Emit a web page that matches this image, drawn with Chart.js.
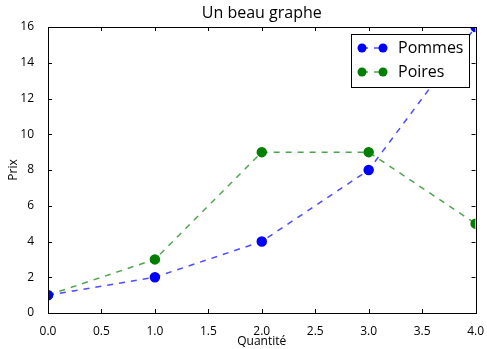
<!DOCTYPE html>
<html>
<head>
<meta charset="utf-8">
<script src="https://cdn.jsdelivr.net/npm/chart.js@4/dist/chart.umd.min.js"></script>
<style>
  html, body { margin: 0; padding: 0; background: #fff; }
  #wrap { width: 487px; height: 349px; }
</style>
</head>
<body>
<div id="wrap"><canvas id="graphe"></canvas></div>
<script>
// Données du graphique
var quantites = [0, 1, 2, 3, 4];
var pommes = [1, 2, 4, 8, 16];
var poires = [1, 3, 9, 9, 5];
var xTicks = [0, 0.5, 1, 1.5, 2, 2.5, 3, 3.5, 4];
var yTicks = [0, 2, 4, 6, 8, 10, 12, 14, 16];
var titre = 'Un beau graphe';

var police = '"Open Sans", sans-serif';

function points(ys) {
  return quantites.map((x, i) => ({ x: x, y: ys[i] }));
}

// Cadre, graduations internes, titre et légende dessinés à la main
var decor = {
  id: 'decor',
  afterDraw(chart) {
    var ctx = chart.ctx, a = chart.chartArea;
    var sx = chart.scales.x, sy = chart.scales.y;
    ctx.save();

    // marqueurs coupés au bord des axes (comme matplotlib) :
    // on efface la petite bande qui dépasse autour de la zone du graphe
    var m = 5;
    ctx.fillStyle = '#fff';
    ctx.fillRect(a.left - m, a.top - m, a.right - a.left + 2 * m, m);
    ctx.fillRect(a.left - m, a.bottom, a.right - a.left + 2 * m, m);
    ctx.fillRect(a.left - m, a.top - m, m, a.bottom - a.top + 2 * m);
    ctx.fillRect(a.right, a.top - m, m, a.bottom - a.top + 2 * m);

    ctx.strokeStyle = '#000';
    ctx.lineWidth = 1;
    ctx.beginPath();
    xTicks.forEach(v => {
      var px = Math.round(sx.getPixelForValue(v)) + 0.5;
      ctx.moveTo(px, a.bottom); ctx.lineTo(px, a.bottom - 4);
      ctx.moveTo(px, a.top); ctx.lineTo(px, a.top + 4);
    });
    yTicks.forEach(v => {
      var py = Math.round(sy.getPixelForValue(v)) + 0.5;
      ctx.moveTo(a.left, py); ctx.lineTo(a.left + 4, py);
      ctx.moveTo(a.right, py); ctx.lineTo(a.right - 4, py);
    });
    ctx.stroke();
    ctx.strokeRect(Math.round(a.left) + 0.5, Math.round(a.top) + 0.5,
      Math.round(a.right - a.left), Math.round(a.bottom - a.top));

    // titre
    ctx.fillStyle = '#000';
    ctx.font = '16px ' + police;
    ctx.textAlign = 'center';
    ctx.textBaseline = 'middle';
    ctx.fillText(titre, (a.left + a.right) / 2, 13);

    // légende
    var lx = 351, ly = 34, lw = 118, lh = 53;
    ctx.fillStyle = '#fff';
    ctx.fillRect(lx, ly, lw, lh);
    ctx.strokeRect(lx + 0.5, ly + 0.5, lw, lh);
    ctx.font = '16px ' + police;
    ctx.textAlign = 'left';
    ctx.textBaseline = 'middle';
    chart.data.datasets.forEach((ds, i) => {
      var yy = ly + 14 + i * 24;
      ctx.strokeStyle = ds.borderColor;
      ctx.lineWidth = 1.5;
      ctx.setLineDash([6, 6]);
      ctx.beginPath();
      ctx.moveTo(362, yy); ctx.lineTo(383, yy);
      ctx.stroke();
      ctx.setLineDash([]);
      ctx.fillStyle = ds.pointBackgroundColor;
      [362, 383].forEach(px => {
        ctx.beginPath();
        ctx.arc(px, yy, 4.5, 0, Math.PI * 2);
        ctx.fill();
      });
      ctx.fillStyle = '#000';
      ctx.fillText(ds.label, 398, yy);
    });
    ctx.restore();
  }
};

new Chart(document.getElementById('graphe'), {
  type: 'scatter',
  data: {
    datasets: [{
      label: 'Pommes',
      data: points(pommes),
      showLine: true,
      borderColor: 'rgba(0,0,255,0.7)',
      borderWidth: 1.5,
      borderDash: [6, 6],
      pointBackgroundColor: '#0000ff',
      pointBorderColor: '#0000ff',
      pointRadius: 4.5
    }, {
      label: 'Poires',
      data: points(poires),
      showLine: true,
      borderColor: 'rgba(0,128,0,0.7)',
      borderWidth: 1.5,
      borderDash: [6, 6],
      pointBackgroundColor: '#007f00',
      pointBorderColor: '#007f00',
      pointRadius: 4.5
    }]
  },
  options: {
    responsive: true,
    maintainAspectRatio: false,
    animation: false,
    layout: { padding: { top: 27, right: 10, left: 0, bottom: 0 } },
    plugins: {
      legend: { display: false },
      tooltip: { enabled: false }
    },
    scales: {
      x: {
        type: 'linear', min: 0, max: 4,
        afterBuildTicks: s => { s.ticks = xTicks.map(v => ({ value: v })); },
        afterFit: s => { s.height = 36; },
        grid: { display: false },
        border: { display: false },
        ticks: {
          padding: 3, color: '#000', font: { family: police, size: 12 },
          maxRotation: 0,
          callback: v => v.toFixed(1)
        },
        title: { display: true, text: 'Quantité', color: '#000', font: { family: police, size: 12 }, padding: { top: 3, bottom: 0 } }
      },
      y: {
        min: 0, max: 16,
        afterBuildTicks: s => { s.ticks = yTicks.map(v => ({ value: v })); },
        afterFit: s => { s.width = 48; },
        grid: { display: false },
        border: { display: false },
        ticks: { padding: 6, color: '#000', font: { family: police, size: 12 } },
        title: { display: true, text: 'Prix', color: '#000', font: { family: police, size: 12 }, padding: { top: 6, bottom: 0 } }
      }
    }
  },
  plugins: [decor]
});
</script>
</body>
</html>
